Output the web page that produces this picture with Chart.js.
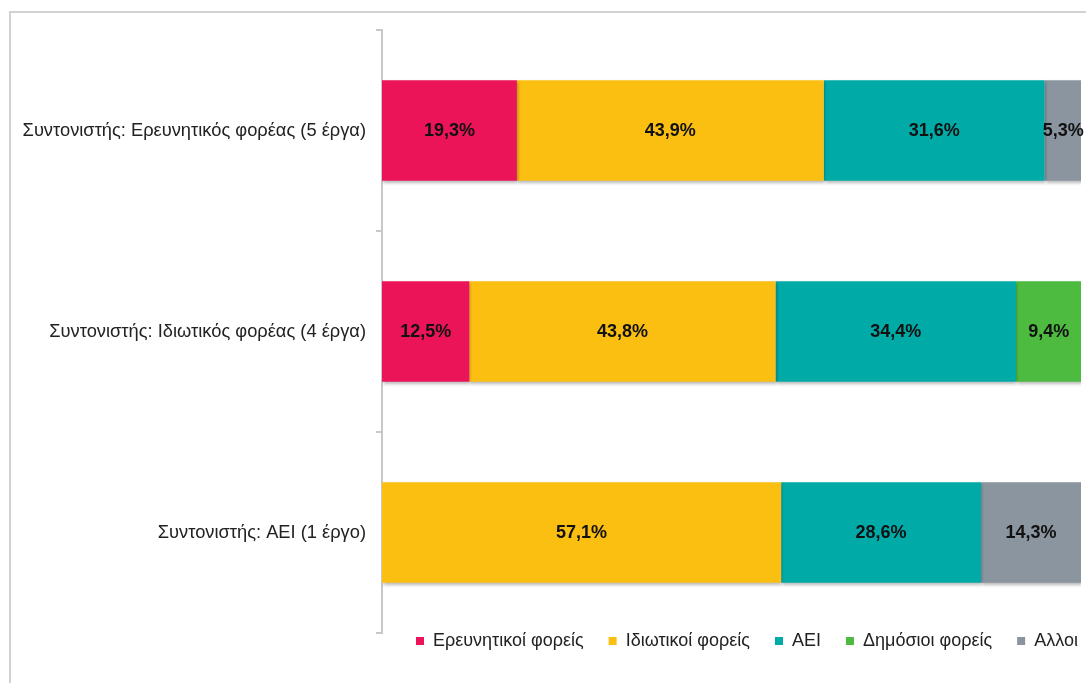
<!DOCTYPE html>
<html>
<head>
<meta charset="utf-8">
<script src="https://cdn.jsdelivr.net/npm/chart.js@4/dist/chart.umd.min.js"></script>
<style>
	html, body { margin: 0; padding: 0; background: #fff; }
	#wrap { position: relative; width: 1086px; height: 683px; overflow: hidden; }
	#frame { position: absolute; left: 9px; top: 11px; width: 1200px; height: 800px; border-top: 2px solid #d2d2d2; border-left: 2px solid #d2d2d2; }
	canvas { position: absolute; left: 0; top: 0; }
</style>
</head>
<body>
<div id="wrap">
	<div id="frame"></div>
	<canvas id="chart" width="1086" height="683"></canvas>
</div>
<script>
const categories = ['Συντονιστής: Ερευνητικός φορέας (5 έργα)', 'Συντονιστής: Ιδιωτικός φορέας (4 έργα)', 'Συντονιστής: ΑΕΙ (1 έργο)'];
const seriesNames = ['Ερευνητικοί φορείς', 'Ιδιωτικοί φορείς', 'ΑΕΙ', 'Δημόσιοι φορείς', 'Αλλοι'];
const researchVals = [19.3, 12.5, 0];
const privateVals = [43.9, 43.8, 57.1];
const uniVals = [31.6, 34.4, 28.6];
const publicVals = [0, 9.4, 0];
const otherVals = [5.3, 0, 14.3];
const colors = ['#ec1459', '#fbbf12', '#00aaa7', '#4dba40', '#8b959f'];

const allVals = [researchVals, privateVals, uniVals, publicVals, otherVals];
const FONT = '"Liberation Sans", Arial, sans-serif';
const LEGEND_PAD = 25;

// shadow under the bars, like the office export
const barShadow = {
	id: 'barShadow',
	beforeDatasetsDraw(chart){
		const ctx = chart.ctx;
		ctx.save();
		ctx.shadowColor = 'rgba(0,0,0,0.28)';
		ctx.shadowBlur = 3;
		ctx.shadowOffsetX = 1;
		ctx.shadowOffsetY = 2;
	},
	afterDatasetsDraw(chart){
		chart.ctx.restore();
	}
};

const valueLabels = {
	id: 'valueLabels',
	afterDatasetsDraw(chart){
		const ctx = chart.ctx;
		ctx.save();
		ctx.font = 'bold 18px ' + FONT;
		ctx.fillStyle = '#111';
		ctx.textAlign = 'center';
		ctx.textBaseline = 'middle';
		chart.data.datasets.forEach((ds, i) =>{
			const meta = chart.getDatasetMeta(i);
			meta.data.forEach((bar, j) =>{
				const v = ds.data[j];
				if (!v) return;
				const p = bar.getProps(['x', 'y', 'base'], true);
				ctx.fillText(v.toFixed(1).replace('.', ',') + '%', (p.x + p.base) / 2, p.y + 1);
			});
		});
		ctx.restore();
	}
};

// legend sits right under the plot, starting under the bars
const moveLegend = {
	id: 'moveLegend',
	afterLayout(chart){
		const lg = chart.legend;
		const h = lg.bottom - lg.top;
		lg.top = chart.chartArea.bottom - 26;
		lg.bottom = lg.top + h;
		const w = lg.right - lg.left;
		lg.left = chart.chartArea.left + 34 - LEGEND_PAD;
		lg.right = lg.left + w;
	}
};

new Chart(document.getElementById('chart'), {
	type: 'bar',
	data: {
		labels: categories,
		datasets: seriesNames.map((name, i) => ({
			label: name,
			data: allVals[i],
			backgroundColor: colors[i],
			borderWidth: 0,
			categoryPercentage: 0.5,
			barPercentage: 1
		}))
	},
	options: {
		indexAxis: 'y',
		responsive: false,
		animation: false,
		layout: { padding: { top: 30, right: 5, bottom: -3, left: 0 } },
		scales: {
			x: { stacked: true, display: false, min: 0, max: 100 },
			y: {
				stacked: true,
				afterFit(scale){ scale.width = 382; },
				grid: { drawOnChartArea: false, drawTicks: true, tickLength: 6, color: '#c8c8c8', lineWidth: 2, offset: true },
				border: { color: '#c8c8c8', width: 2 },
				ticks: { padding: 10, color: '#222', font: { family: FONT, size: 18.3 } }
			}
		},
		plugins: {
			legend: {
				position: 'bottom',
				align: 'start',
				labels: {
					boxWidth: 8,
					boxHeight: 8,
					padding: LEGEND_PAD,
					color: '#222',
					font: { family: FONT, size: 18 }
				}
			},
			tooltip: { enabled: false }
		}
	},
	plugins: [barShadow, valueLabels, moveLegend]
});
</script>
</body>
</html>
